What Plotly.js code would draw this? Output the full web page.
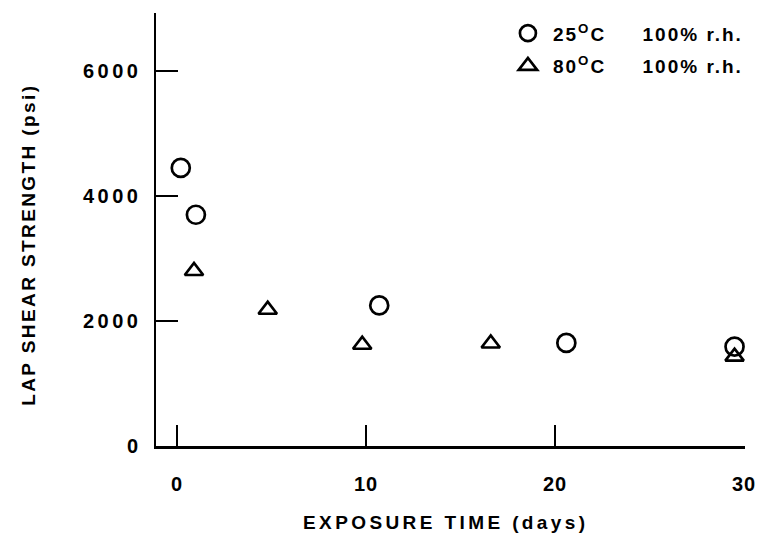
<!DOCTYPE html>
<html>
<head>
<meta charset="utf-8">
<script src="https://cdn.plot.ly/plotly-3.0.1.min.js"></script>
<style>
html,body{margin:0;padding:0;background:#fff;}
#chart{width:757px;height:543px;}
#chart .xtick text { letter-spacing: 1px; }
#chart .ytick text { letter-spacing: 3.5px; }
text.legendtext { letter-spacing: 2px; }
#chart .annotation[data-index="0"] .annotation-text { letter-spacing: 3.4px; }
#chart .annotation[data-index="1"] .annotation-text { letter-spacing: 2.4px; }
</style>
</head>
<body>
<div id="chart"></div>
<script>
// Exposure time (days) and lap shear strength (psi)
const days25 = [0.2, 1.0, 10.7, 20.6, 29.5];
const psi25 = [4450, 3700, 2250, 1650, 1590];
const days80 = [0.9, 4.8, 9.8, 16.6, 29.5];
const psi80 = [2800, 2180, 1620, 1640, 1430];
const seriesNames = ["25<sup>O</sup>C\u00a0\u00a0\u00a0\u00a0\u00a0100% r.h.", "80<sup>O</sup>C\u00a0\u00a0\u00a0\u00a0\u00a0100% r.h."];
const xTicks = [0, 10, 20, 30];
const yTicks = [0, 2000, 4000, 6000];
const xTitle = "EXPOSURE TIME (days)";
const yTitle = "LAP SHEAR STRENGTH (psi)";

const FONT = "'Liberation Sans', Arial, Helvetica, sans-serif";

const traces = [
  {
    x: days25, y: psi25, name: seriesNames[0], type: "scatter", mode: "markers",
    legendgroup: "a",
    marker: {symbol: "circle-open", size: 18, color: "#000", line: {width: 2.7, color: "#000"}}
  },
  {
    x: days80, y: psi80, name: seriesNames[1], type: "scatter", mode: "markers",
    legendgroup: "b",
    marker: {symbol: "triangle-up-open", size: 16, color: "#000", line: {width: 2.7, color: "#000"}}
  }
];

const layout = {
  width: 757, height: 543,
  margin: {l: 156, r: 12, t: 13, b: 97, autoexpand: false},
  paper_bgcolor: "#fff", plot_bgcolor: "#fff",
  font: {family: FONT, color: "#000"},
  showlegend: true,
  legend: {
    x: 0.589, y: 0.997, xanchor: "left", yanchor: "top",
    font: {family: FONT, size: 19, color: "#000", weight: "bold"},
    bgcolor: "rgba(0,0,0,0)", borderwidth: 0,
    itemwidth: 40,
    traceorder: "grouped", tracegroupgap: 5
  },
  xaxis: {
    range: [-1.111, 30.053],
    tickvals: xTicks, ticktext: xTicks.map(String),
    ticks: "inside", ticklen: 21, tickwidth: 1.8, tickcolor: "#000",
    showline: true, linewidth: 2.5, linecolor: "#000",
    showgrid: false, zeroline: false,
    tickfont: {family: FONT, size: 20, color: "#000", weight: "bold"},
    ticklabelstandoff: 18,
    ticklabeloverflow: "allow"
  },
  yaxis: {
    range: [0, 6928],
    tickvals: yTicks, ticktext: yTicks.map(String),
    ticks: "inside", ticklen: 22, tickwidth: 1.8, tickcolor: "#000",
    showline: true, linewidth: 2.5, linecolor: "#000",
    showgrid: false, zeroline: false,
    tickfont: {family: FONT, size: 20, color: "#000", weight: "bold"},
    ticklabelstandoff: 8
  },
  annotations: [
    {text: xTitle, xref: "paper", yref: "paper", x: (446 - 156) / 589, y: -(522 - 446) / 433,
     xanchor: "center", yanchor: "middle", showarrow: false,
     font: {family: FONT, size: 19, color: "#000", weight: "bold"}},
    {text: yTitle, xref: "paper", yref: "paper", x: -(156 - 28) / 589, y: (446 - 245) / 433,
     xanchor: "center", yanchor: "middle", showarrow: false, textangle: -90,
     font: {family: FONT, size: 19, color: "#000", weight: "bold"}}
  ]
};

Plotly.newPlot("chart", traces, layout, {displayModeBar: false, staticPlot: true});
</script>
</body>
</html>
